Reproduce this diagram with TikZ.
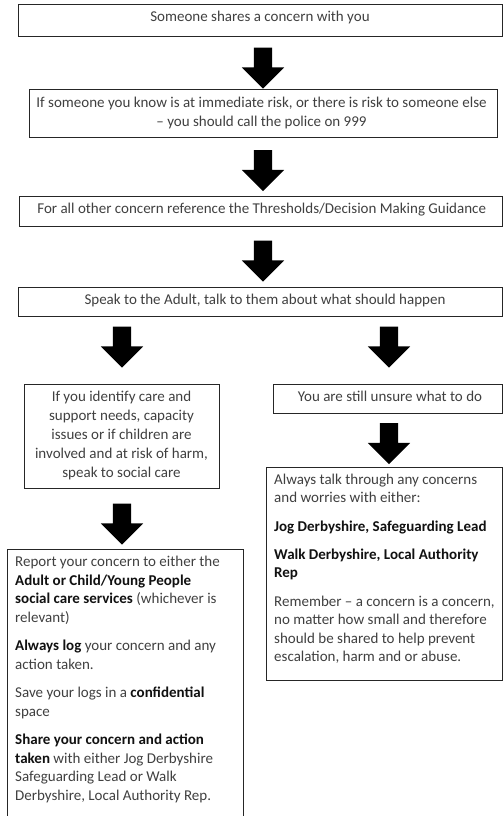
\documentclass[tikz,border=0pt]{standalone}
\usepackage{fontspec}
\setmainfont{Carlito}
\usetikzlibrary{shapes.arrows}
\definecolor{txtgray}{HTML}{404040}
\definecolor{ink}{HTML}{111111}
\definecolor{framecol}{HTML}{262626}
\newcommand{\bk}[1]{{\bfseries\color{ink}#1}}
\begin{document}
\begin{tikzpicture}[x=1pt,y=-1pt,
  boxstyle/.style={draw=framecol,line width=1pt},
  txtstyle/.style={inner sep=0pt,text=txtgray,font=\fontsize{15pt}{18.5pt}\selectfont},
  blockarrow/.style={single arrow,fill=black,draw=none,rotate=-90,
    minimum height=41pt,minimum width=42pt,inner xsep=0pt,inner ysep=9pt,
    single arrow head extend=12pt,single arrow tip angle=90}]
\useasboundingbox (0,0) rectangle (503,816);
\clip (0,0) rectangle (503,816);
\fill[white] (0,0) rectangle (503,816);
% boxes
\draw[boxstyle] (18,5) rectangle (502.5,37);
\draw[boxstyle] (29,89) rectangle (497,137);
\draw[boxstyle] (19,196) rectangle (502.5,226);
\draw[boxstyle] (18,287) rectangle (502.5,316);
\draw[boxstyle] (24,384) rectangle (219,488);
\draw[boxstyle] (273,384) rectangle (502.5,413);
\draw[boxstyle] (266,467) rectangle (502.5,680);
\draw[boxstyle] (7,549) rectangle (243,830);
% texts (base anchor = baseline of last line)
\node[txtstyle,anchor=base] (t1) at (260,21.5) {Someone shares a concern with you};
\node[txtstyle,anchor=base,align=center,font=\fontsize{15pt}{19pt}\selectfont] (t2) at (261.5,126) {If someone you know is at immediate risk, or there is risk to someone else\\– you should call the police on 999};
\node[txtstyle,anchor=base] (t3) at (261.7,213) {For all other concern reference the Thresholds/Decision Making Guidance};
\node[txtstyle,anchor=base] (t4) at (265,304.3) {Speak to the Adult, talk to them about what should happen};
\node[txtstyle,anchor=base,align=center,font=\fontsize{15pt}{19.2pt}\selectfont] (t5) at (121.5,477.8) {If you identify care and\\support needs, capacity\\issues or if children are\\involved and at risk of harm,\\speak to social care};
\node[txtstyle,anchor=base] (t6) at (390,401) {You are still unsure what to do};
\node[txtstyle,anchor=base west,align=left] (t7) at (274,661.7) {Always talk through any concerns\\and worries with either:\\[9.8pt]\bk{Jog Derbyshire, Safeguarding Lead}\\[9.8pt]\bk{Walk Derbyshire, Local Authority}\\\bk{Rep}\\[9.8pt]Remember – a concern is a concern,\\no matter how small and therefore\\should be shared to help prevent\\escalation, harm and or abuse.};
\node[txtstyle,anchor=base west,align=left] (t8) at (15,800) {Report your concern to either the\\\bk{Adult or Child/Young People}\\\bk{social care services} (whichever is\\relevant)\\[10pt]\bk{Always log} your concern and any\\action taken.\\[10pt]Save your logs in a \bk{confidential}\\space\\[10pt]\bk{Share your concern and action}\\\bk{taken} with either Jog Derbyshire\\Safeguarding Lead or Walk\\Derbyshire, Local Authority Rep.};
% arrows
\node[blockarrow] (a1) at (263,63.5) {};
\node[blockarrow] (a2) at (263,166) {};
\node[blockarrow] (a3) at (263,256.5) {};
\node[blockarrow] (a4) at (122,342.5) {};
\node[blockarrow] (a5) at (389,342.5) {};
\node[blockarrow] (a6) at (389,439) {};
\node[blockarrow] (a7) at (122,519.5) {};
\end{tikzpicture}
\end{document}
